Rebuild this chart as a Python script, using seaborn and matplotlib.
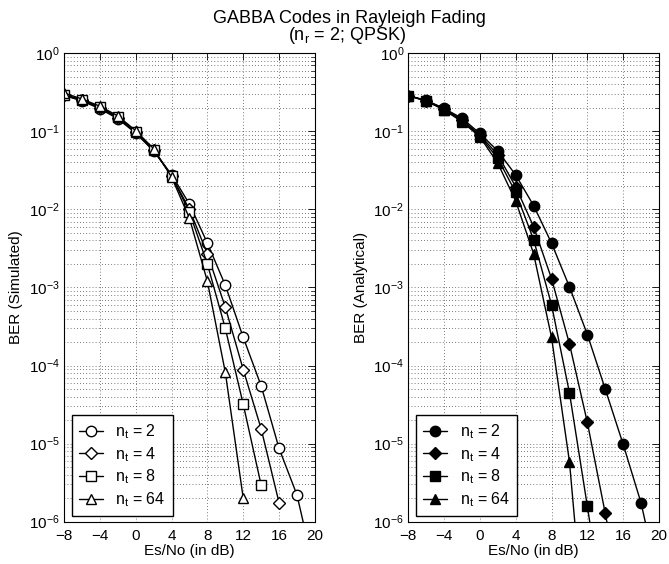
import numpy as np
import pandas as pd
import matplotlib
matplotlib.use("Agg")
import matplotlib.pyplot as plt
import matplotlib.ticker as mticker
import seaborn as sns

nan = np.nan
SNR_DB = [-8, -6, -4, -2, 0, 2, 4, 6, 8, 10, 12, 14, 16, 18, 20]
NT_LABELS = ["2", "4", "8", "64"]
MARKERS = ["o", "D", "s", "^"]

# simulated BER per n_t
SIM_NT2 = [0.29, 0.245, 0.195, 0.145, 0.095, 0.056, 0.028, 0.0117, 0.0037, 0.00107, 0.00023, 5.5e-5, 8.7e-6, 2.2e-6, 2.2e-7]
SIM_NT4 = [0.29, 0.25, 0.20, 0.15, 0.097, 0.057, 0.027, 0.0100, 0.0027, 0.00056, 8.9e-5, 1.55e-5, 1.75e-6, nan, nan]
SIM_NT8 = [0.295, 0.255, 0.205, 0.153, 0.099, 0.058, 0.027, 0.0092, 0.0020, 0.00030, 3.2e-5, 2.95e-6, nan, nan, nan]
SIM_NT64 = [0.31, 0.26, 0.21, 0.158, 0.102, 0.060, 0.026, 0.0077, 0.0012, 8.2e-5, 2.0e-6, nan, nan, nan, nan]

# analytical BER per n_t (right panel)
ANA_NT2 = [0.286, 0.25, 0.197, 0.147, 0.094, 0.056, 0.0276, 0.0112, 0.0037, 0.00102, 0.00025, 5.0e-5, 9.8e-6, 1.74e-6, 1.6e-7]
ANA_NT4 = [0.286, 0.248, 0.193, 0.140, 0.090, 0.050, 0.0195, 0.0060, 0.0013, 0.00019, 1.87e-5, 1.28e-6, 8e-8, nan, nan]
ANA_NT8 = [0.286, 0.246, 0.190, 0.137, 0.087, 0.045, 0.0165, 0.0041, 0.0006, 4.5e-5, 1.58e-6, 5e-8, nan, nan, nan]
ANA_NT64 = [0.286, 0.245, 0.188, 0.133, 0.085, 0.039, 0.0128, 0.0027, 0.00023, 5.9e-6, 1.5e-8, nan, nan, nan, nan]

Y_DECADES = [1e-6, 1e-5, 1e-4, 1e-3, 1e-2, 1e-1, 1e0]


def to_long(series):
    rows = []
    for lab, vals in zip(NT_LABELS, series):
        for x, y in zip(SNR_DB, vals):
            if not np.isnan(y):
                rows.append({"snr": x, "ber": y, "nt": lab})
    return pd.DataFrame(rows)


def style_axes(ax, ylabel):
    ax.set_yscale("log")
    ax.set_xlim(-8, 20)
    ax.set_ylim(1e-6, 1)
    ax.set_xticks(range(-8, 21, 4))
    ax.yaxis.set_major_locator(mticker.FixedLocator(Y_DECADES))
    ax.yaxis.set_major_formatter(mticker.LogFormatterSciNotation())
    minors = [d * k for d in Y_DECADES[:-1] for k in range(2, 10)]
    ax.yaxis.set_minor_locator(mticker.FixedLocator(minors))
    ax.yaxis.set_minor_formatter(mticker.NullFormatter())
    ax.tick_params(which="both", direction="in", top=True, right=True, labelsize=11,
                   colors="k", labelcolor="k")
    ax.tick_params(which="major", length=5, width=0.6, pad=3)
    ax.tick_params(axis="x", which="major", pad=5)
    ax.tick_params(which="minor", length=3, width=0.5)
    ax.grid(True, which="major", axis="both", color="k", lw=0.5, ls=(0, (1, 3.5)))
    ax.grid(True, which="minor", axis="y", color="k", lw=0.5, ls=(0, (1, 3.5)))
    for sp in ax.spines.values():
        sp.set_color("k")
        sp.set_linewidth(0.8)
    ax.set_xlabel("Es/No (in dB)", fontsize=11, labelpad=1, color="k")
    ax.set_ylabel(ylabel, fontsize=11, labelpad=4, color="k")


def draw(ax, df, face):
    sns.lineplot(data=df, x="snr", y="ber", hue="nt", style="nt",
                 hue_order=NT_LABELS, style_order=NT_LABELS,
                 palette=["k"] * 4, markers=dict(zip(NT_LABELS, MARKERS)),
                 dashes=False, estimator=None, errorbar=None, legend=False,
                 lw=1, markersize=7.5, markerfacecolor=face,
                 markeredgecolor="k", markeredgewidth=1, ax=ax)
    handles = ax.get_lines()[:4]
    for h, m in zip(handles, MARKERS):
        if m == "D":
            h.set_markersize(6.5)
    labels = [r"$\mathdefault{n_t}$ = " + lab for lab in NT_LABELS]
    leg = ax.legend(handles, labels, loc="lower left", bbox_to_anchor=(0.03, 0.012),
                    borderaxespad=0, fontsize=11.5, fancybox=False, framealpha=1,
                    edgecolor="k", handlelength=1.5, handletextpad=0.8,
                    labelspacing=0.25, borderpad=0.45)
    leg.get_frame().set_linewidth(1.0)
    for t in leg.get_texts():
        t.set_color("k")


sns.set_style("white")
plt.rcParams["font.family"] = ["Liberation Sans", "DejaVu Sans"]
plt.rcParams["mathtext.fontset"] = "custom"
plt.rcParams["mathtext.rm"] = "Liberation Sans"
plt.rcParams["mathtext.it"] = "Liberation Sans:italic"
plt.rcParams["axes.unicode_minus"] = True
plt.rcParams["text.color"] = "k"

fig = plt.figure(figsize=(6.69, 5.64), dpi=100)
ax1 = fig.add_axes([0.0957, 0.075, 0.375, 0.8305])
ax2 = fig.add_axes([0.6103, 0.075, 0.3747, 0.8305])

style_axes(ax1, "BER (Simulated)")
style_axes(ax2, "BER (Analytical)")
draw(ax1, to_long([SIM_NT2, SIM_NT4, SIM_NT8, SIM_NT64]), "white")
draw(ax2, to_long([ANA_NT2, ANA_NT4, ANA_NT8, ANA_NT64]), "black")
style_axes(ax1, "BER (Simulated)")
style_axes(ax2, "BER (Analytical)")

fig.text(0.522, 0.983, "GABBA Codes in Rayleigh Fading", ha="center", va="top", fontsize=13)
fig.text(0.519, 0.955, r"($\mathdefault{n_r}$ = 2; QPSK)", ha="center", va="top", fontsize=13)

fig.savefig("out.png", dpi=100)
